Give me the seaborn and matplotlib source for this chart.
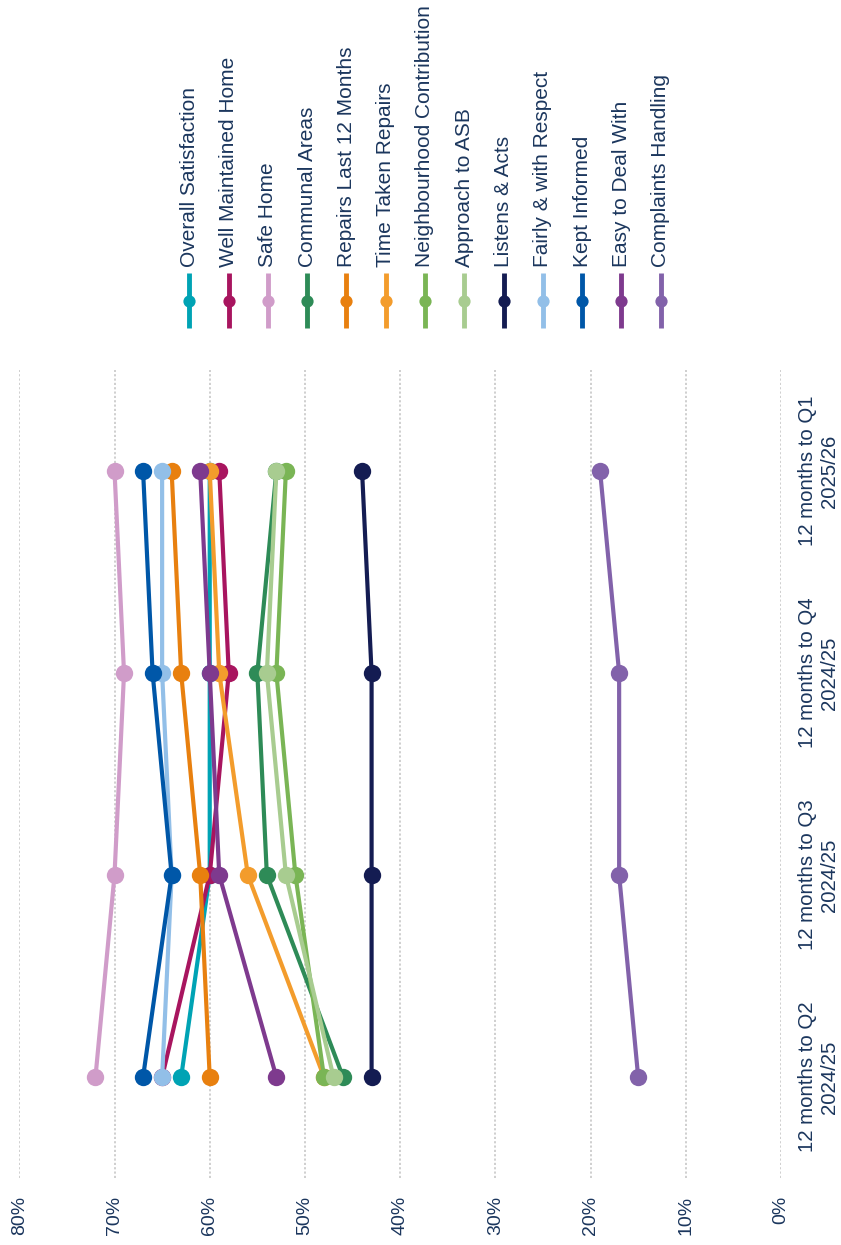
import matplotlib
matplotlib.use("Agg")
import matplotlib.pyplot as plt
import seaborn as sns
import pandas as pd

# ---- data ----
periods = ["12 months to Q2\n2024/25", "12 months to Q3\n2024/25",
           "12 months to Q4\n2024/25", "12 months to Q1\n2025/26"]
series_names = ["Overall Satisfaction", "Well Maintained Home", "Safe Home",
                "Communal Areas", "Repairs Last 12 Months", "Time Taken Repairs",
                "Neighbourhood Contribution", "Approach to ASB", "Listens & Acts",
                "Fairly & with Respect", "Kept Informed", "Easy to Deal With",
                "Complaints Handling"]
series_colors = ["#00A3B4", "#A8155F", "#D09CC9", "#2E8B57", "#E8800F", "#F39C2C",
                 "#7AB555", "#A8CC90", "#141C52", "#92BFE8", "#0057A8", "#7E3A8E",
                 "#8262AA"]
overall = [63, 60, 60, 60]
well_maintained = [65, 60, 58, 59]
safe_home = [72, 70, 69, 70]
communal = [46, 54, 55, 53]
repairs_12m = [60, 61, 63, 64]
time_taken = [48, 56, 59, 60]
neighbourhood = [48, 51, 53, 52]
asb = [47, 52, 54, 53]
listens = [43, 43, 43, 44]
fairly = [65, 64, 65, 65]
kept_informed = [67, 64, 66, 67]
easy_deal = [53, 59, 60, 61]
complaints = [15, 17, 17, 19]
tick_values = [80, 70, 60, 50, 40, 30, 20, 10, 0]
tick_labels = ["80%", "70%", "60%", "50%", "40%", "30%", "20%", "10%", "0%"]

all_values = [overall, well_maintained, safe_home, communal, repairs_12m, time_taken,
              neighbourhood, asb, listens, fairly, kept_informed, easy_deal, complaints]

rows = []
for name, vals in zip(series_names, all_values):
    for i, v in enumerate(vals):
        rows.append({"series": name, "period": i, "value": v})
df = pd.DataFrame(rows)

# ---- style ----
sns.set_theme(style="white")
plt.rcParams["font.family"] = ["Liberation Sans", "DejaVu Sans"]
text_color = "#1B365D"

fig = plt.figure(figsize=(8.41, 12.45), dpi=100)
ax = fig.add_axes([19.3 / 841, (1245 - 1178) / 1245, (781 - 19.3) / 841, 808 / 1245])

sns.lineplot(data=df, x="value", y="period", hue="series", hue_order=series_names,
             palette=series_colors, marker="o", markersize=12.5, markeredgewidth=0,
             linewidth=3, orient="y", legend=False, errorbar=None, ax=ax)

ax.set_xlim(80, 0)
ax.set_ylim(-0.5, len(periods) - 0.5)
ax.set_xticks(tick_values)
ax.set_xticklabels(tick_labels, rotation=90, fontsize=14, color=text_color)
ax.set_yticks(range(len(periods)))
ax.yaxis.tick_right()
ax.set_yticklabels(periods, rotation=90, fontsize=14.7, color=text_color,
                   va="center", ha="left", multialignment="center", linespacing=1.2)
ax.tick_params(axis="x", length=0, pad=13)
ax.tick_params(axis="y", length=0, pad=12)
ax.set_xlabel("")
ax.set_ylabel("")
ax.grid(axis="x", linestyle=(0, (1.2, 1.2)), color="#CCCCCC", linewidth=1.3)
ax.grid(axis="y", visible=False)
for s in ax.spines.values():
    s.set_visible(False)

# ---- legend (rotated, manual) ----
n = len(series_names)
leg = fig.add_axes([169.7 / 841, (1245 - 330) / 1245, 510.6 / 841, 330 / 1245])
leg.set_xlim(-0.5, n - 0.5)
leg.set_ylim(0, 1)
leg.axis("off")
for i, (name, col) in enumerate(zip(series_names, series_colors)):
    leg.plot([i, i], [0.005, 0.174], color=col, linewidth=3.5, solid_capstyle="butt")
    leg.plot([i], [0.088], marker="o", color=col, markersize=8.8, markeredgewidth=0)
    leg.text(i, 0.19, name, rotation=90, ha="center", va="bottom",
             fontsize=15, color=text_color)

fig.savefig("out.png", dpi=100)
